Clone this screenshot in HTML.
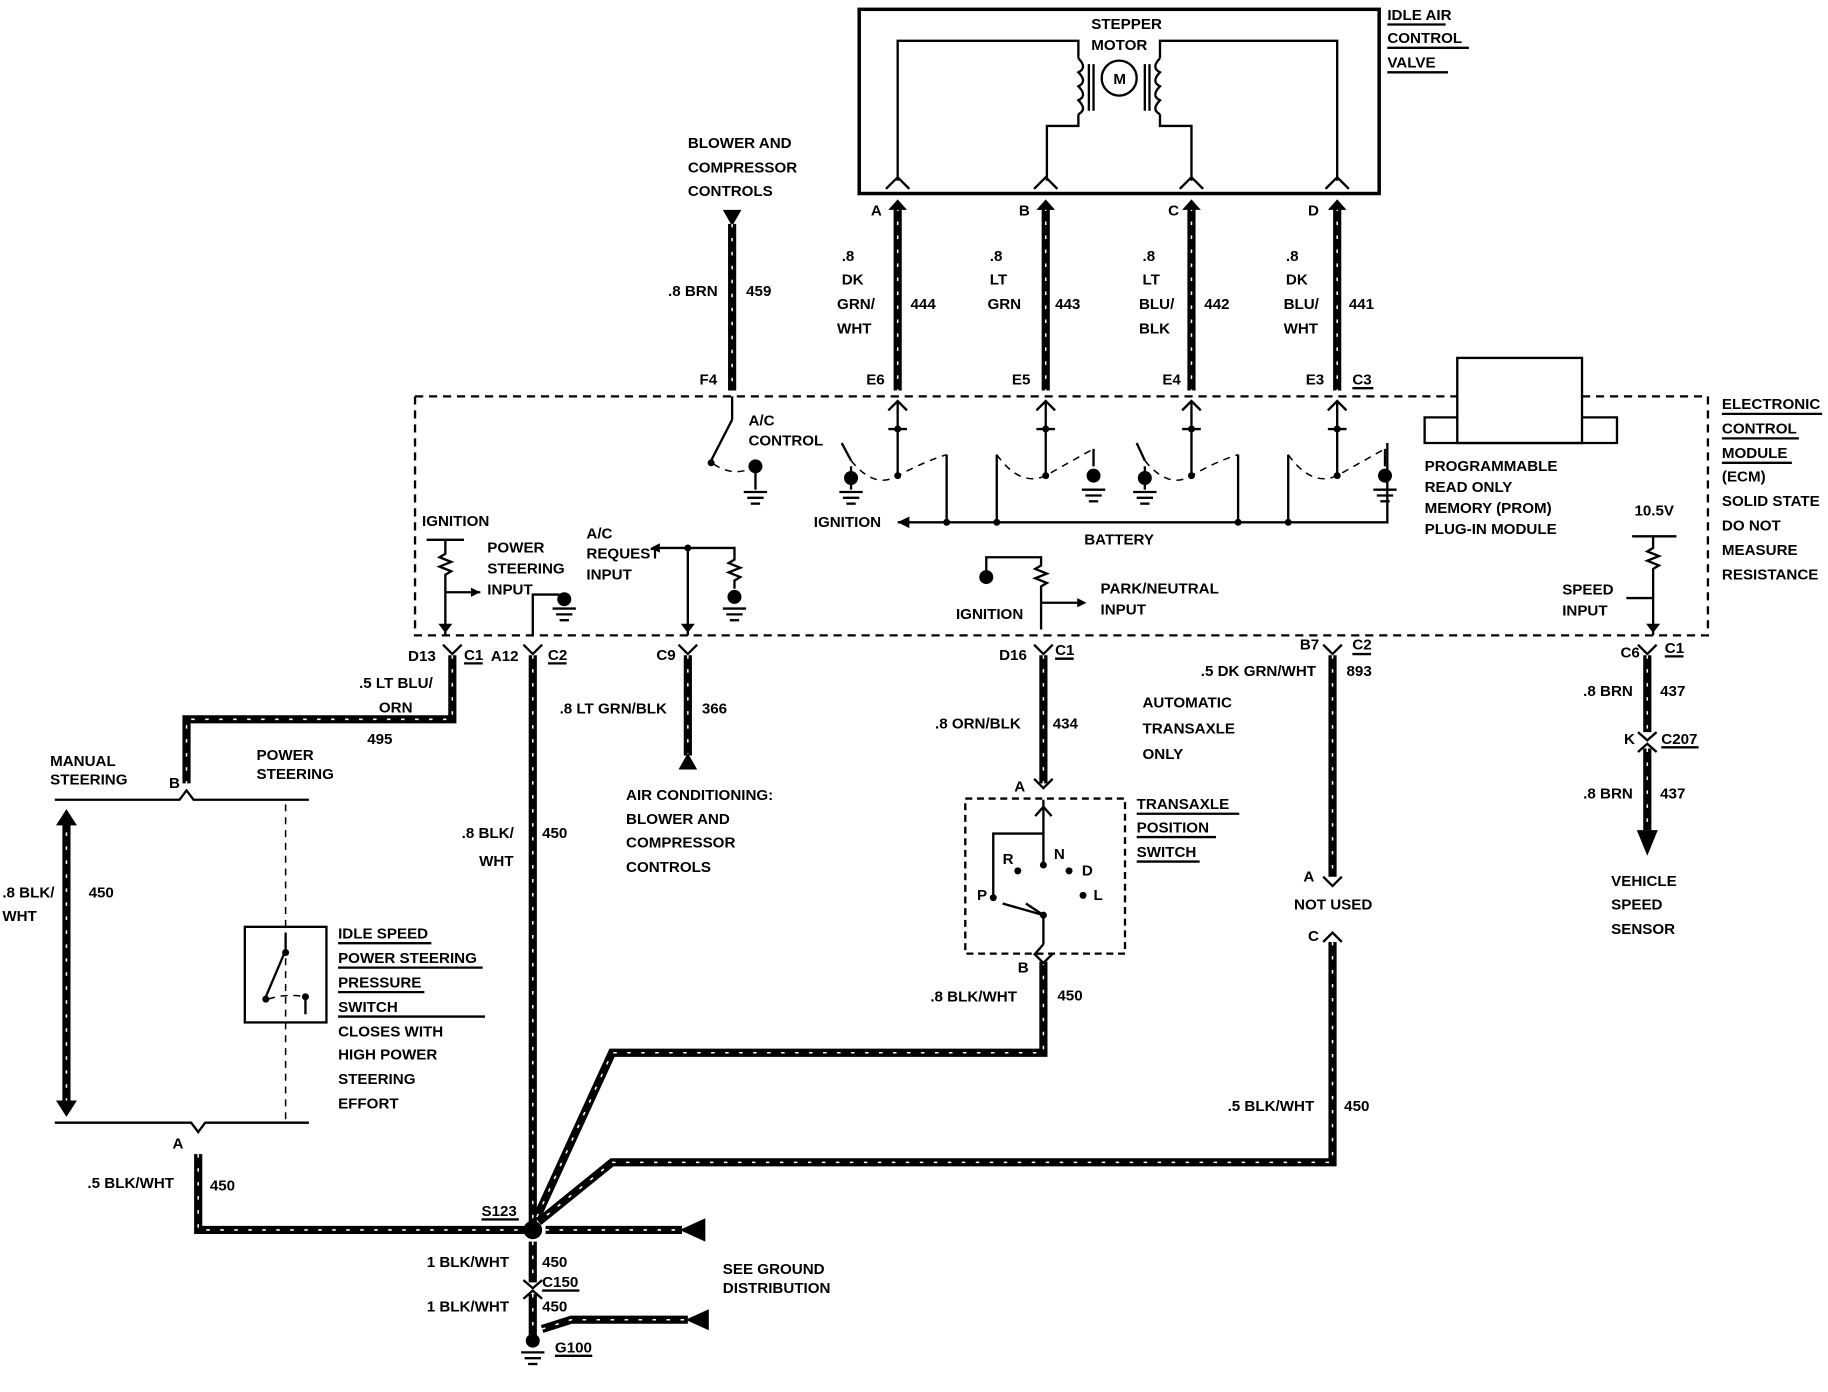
<!DOCTYPE html>
<html><head><meta charset="utf-8"><style>
html,body{margin:0;padding:0;background:#fff}
svg{display:block}
text{font-family:"Liberation Sans",sans-serif;font-weight:bold;font-size:13px;fill:#000}
.w{stroke:#000;stroke-width:7;fill:none}
.h{stroke:#fff;stroke-width:1.3;stroke-dasharray:3 9;fill:none}
.t{stroke:#000;stroke-width:2;fill:none}
.d{stroke:#000;stroke-width:2;fill:none;stroke-dasharray:7 5}
.d2{stroke:#000;stroke-width:1.3;fill:none;stroke-dasharray:6 5}
</style></head><body>
<svg width="1828" height="1392" viewBox="0 0 1568 1194" xmlns="http://www.w3.org/2000/svg">
<defs>
<g id="gnd"><line x1="-10" y1="0" x2="10" y2="0" class="t"/><line x1="-7" y1="5" x2="7" y2="5" class="t"/><line x1="-4" y1="10" x2="4" y2="10" class="t"/></g>
</defs>
<!-- IAC box -->
<rect x="737" y="8" width="446" height="158" fill="none" stroke="#000" stroke-width="3"/>
<path class="t" d="M770 155 V35 H925 V50 M925 98 V108 H898 V155"/>
<path class="t" d="M1147 155 V35 H995 V50 M995 98 V108 H1022 V155"/>
<path class="t" d="M925 50 q8 8 0 12 q8 8 0 12 q8 8 0 12 q8 8 0 12"/>
<path class="t" d="M995 50 q-8 8 0 12 q-8 8 0 12 q-8 8 0 12 q-8 8 0 12"/>
<line x1="934" y1="55" x2="934" y2="95" class="t"/><line x1="938" y1="55" x2="938" y2="95" class="t"/>
<line x1="982" y1="55" x2="982" y2="95" class="t"/><line x1="986" y1="55" x2="986" y2="95" class="t"/>
<circle cx="960" cy="67" r="15" class="t"/><text x="955" y="72" font-size="10">M</text>
<text x="936" y="25" font-size="11">STEPPER</text><text x="936" y="43" font-size="11">MOTOR</text>
<text x="1190" y="17">IDLE AIR</text><text x="1190" y="37">CONTROL</text><text x="1190" y="58">VALVE</text>
<path class="t" d="M1190 21h50M1190 41h70M1190 62h52"/>
<g class="t">
<path d="M760 162l10-10 10 10M887 162l10-10 10 10M1012 162l10-10 10 10M1137 162l10-10 10 10"/>
</g>
<!-- wires IAC -->
<g>
<path class="w" d="M770 178V335M897 178V335M1022 178V335M1147 178V335"/>
<path class="h" d="M770 178V335M897 178V335M1022 178V335M1147 178V335"/>
<path d="M762 180l8-9 8 9zM889 180l8-9 8 9zM1014 180l8-9 8 9zM1139 180l8-9 8 9z"/>
</g>
<text x="747" y="185">A</text><text x="874" y="185">B</text><text x="1002" y="185">C</text><text x="1122" y="185">D</text>
<text x="722" y="224">.8</text><text x="722" y="244">DK</text><text x="718" y="265">GRN/</text><text x="718" y="286">WHT</text><text x="781" y="265">444</text>
<text x="849" y="224">.8</text><text x="849" y="244">LT</text><text x="847" y="265">GRN</text><text x="905" y="265">443</text>
<text x="980" y="224">.8</text><text x="980" y="244">LT</text><text x="977" y="265">BLU/</text><text x="977" y="286">BLK</text><text x="1033" y="265">442</text>
<text x="1103" y="224">.8</text><text x="1103" y="244">DK</text><text x="1101" y="265">BLU/</text><text x="1101" y="286">WHT</text><text x="1157" y="265">441</text>
<!-- 459 -->
<text x="590" y="127">BLOWER AND</text><text x="590" y="148">COMPRESSOR</text><text x="590" y="168">CONTROLS</text>
<path d="M620 180h16l-8 14z"/>
<path class="w" d="M628 192V335"/><path class="h" d="M628 192V335"/>
<text x="573" y="254">.8 BRN</text><text x="640" y="254">459</text>
<text x="600" y="330">F4</text><text x="743" y="330">E6</text><text x="868" y="330">E5</text><text x="997" y="330">E4</text><text x="1120" y="330">E3</text><text x="1160" y="330">C3</text>
<path class="t" d="M1160 333h18"/>
<!-- ECM dashed -->
<path class="d" d="M356 340H1250M1357 340H1465V545H356V340"/>
<rect x="1250" y="307" width="107" height="73" fill="#fff" stroke="#000" stroke-width="2"/>
<path class="t" d="M1250 358H1222V380H1387V358H1357"/>
<text x="1222" y="404" font-size="11">PROGRAMMABLE</text><text x="1222" y="422" font-size="11">READ ONLY</text><text x="1222" y="440" font-size="11">MEMORY (PROM)</text><text x="1222" y="458" font-size="11">PLUG-IN MODULE</text>
<text x="1477" y="351">ELECTRONIC</text><text x="1477" y="372">CONTROL</text><text x="1477" y="393">MODULE</text><text x="1477" y="413">(ECM)</text><text x="1477" y="434">SOLID STATE</text><text x="1477" y="455">DO NOT</text><text x="1477" y="476">MEASURE</text><text x="1477" y="497">RESISTANCE</text>
<path class="t" d="M1477 355h86M1477 376h66M1477 397h60"/>
<!-- inside ECM top -->
<path class="t" d="M628 340V360M628 360L610 395"/><circle cx="610" cy="397" r="3"/>
<path class="d2" d="M612 398Q630 410 648 400"/><path class="t" d="M648 400V420"/><circle cx="648" cy="400" r="6"/><use href="#gnd" x="648" y="422"/>
<text x="642" y="365" font-size="11">A/C</text><text x="642" y="382" font-size="11">CONTROL</text>
<g class="t">
<path d="M770 345V410M897 345V410M1022 345V410M1147 345V410"/>
<path d="M762 352l8-8 8 8M889 352l8-8 8 8M1014 352l8-8 8 8M1139 352l8-8 8 8"/>
<path d="M762 368h16M889 368h16M1014 368h16M1139 368h16"/>
</g>
<circle cx="770" cy="368" r="3"/><circle cx="897" cy="368" r="3"/><circle cx="1022" cy="368" r="3"/><circle cx="1147" cy="368" r="3"/>
<circle cx="770" cy="408" r="3"/><circle cx="897" cy="408" r="3"/><circle cx="1022" cy="408" r="3"/><circle cx="1147" cy="408" r="3"/>
<path class="d2" d="M730 395Q750 420 770 408Q795 395 812 390M855 390Q875 418 897 408Q920 395 938 385M982 395Q1002 420 1022 408Q1045 395 1062 390M1105 390Q1125 418 1147 408Q1170 395 1188 385"/>
<g class="t"><path d="M730 395L722 380M855 390L855 448M938 385V400M982 395L975 380M1105 390V448M1188 385V400M812 390V448M1062 390V448"/></g>
<circle cx="730" cy="410" r="6"/><path class="t" d="M730 400V420"/><use href="#gnd" x="730" y="422"/>
<circle cx="938" cy="408" r="6"/><use href="#gnd" x="938" y="420"/>
<circle cx="982" cy="410" r="6"/><path class="t" d="M982 400V420"/><use href="#gnd" x="982" y="422"/>
<circle cx="1188" cy="408" r="6"/><use href="#gnd" x="1188" y="420"/>
<path class="t" d="M770 448H1190V380"/><path d="M770 448l10-5v10z"/>
<circle cx="812" cy="448" r="3"/><circle cx="855" cy="448" r="3"/><circle cx="1062" cy="448" r="3"/><circle cx="1105" cy="448" r="3"/>
<text x="698" y="452" font-size="11">IGNITION</text><text x="930" y="467" font-size="11">BATTERY</text>
<!-- left ECM -->
<text x="362" y="451" font-size="11">IGNITION</text>
<path class="t" d="M366 463H398M382 463V475l-5 3 10 4-10 4 10 4-5 3V545"/>
<path class="t" d="M382 508H412"/><path d="M412 508l-8-4v8z"/>
<path d="M376 535l6 8 6-8z"/>
<text x="418" y="474" font-size="11">POWER</text><text x="418" y="492" font-size="11">STEERING</text><text x="418" y="510" font-size="11">INPUT</text>
<path class="t" d="M457 545V510H480"/><circle cx="484" cy="514" r="6"/><use href="#gnd" x="484" y="522"/>
<text x="503" y="462" font-size="11">A/C</text><text x="503" y="479" font-size="11">REQUEST</text><text x="503" y="497" font-size="11">INPUT</text>
<path class="t" d="M560 470H630V480l-5 3 10 4-10 4 10 4-5 3V505M590 470V545"/><path d="M558 470l8-4v8z"/>
<circle cx="630" cy="512" r="6"/><use href="#gnd" x="630" y="522"/><path d="M584 535l6 8 6-8z"/>
<circle cx="590" cy="470" r="3"/>
<circle cx="846" cy="495" r="6"/><path class="t" d="M846 495V478H893V485l-5 3 10 4-10 4 10 4-5 3V540M893 517H930"/><path d="M932 517l-8-4v8z"/>
<text x="820" y="531" font-size="11">IGNITION</text><text x="944" y="509" font-size="11">PARK/NEUTRAL</text><text x="944" y="527" font-size="11">INPUT</text>
<text x="1402" y="442" font-size="11">10.5V</text>
<path class="t" d="M1400 460H1438M1418 460V470l-5 3 10 4-10 4 10 4-5 3V545M1418 513H1395"/><path d="M1412 535l6 8 6-8z"/>
<text x="1340" y="510" font-size="11">SPEED</text><text x="1340" y="528" font-size="11">INPUT</text>
<!-- bottom connectors -->
<g class="t"><path d="M380 553l8 8 8-8M449 553l8 8 8-8M582 553l8 8 8-8M887 553l8 8 8-8M1135 553l8 8 8-8M1405 553l8 8 8-8"/></g>
<text x="350" y="567">D13</text><text x="398" y="566">C1</text><text x="421" y="567">A12</text><text x="470" y="566">C2</text><text x="563" y="566">C9</text>
<text x="857" y="566">D16</text><text x="905" y="562">C1</text><text x="1115" y="557">B7</text><text x="1160" y="557">C2</text><text x="1390" y="564">C6</text><text x="1428" y="560">C1</text>
<path class="t" d="M398 569h16M470 569h16M905 565h16M1160 561h16M1428 563h16"/>
<!-- wires -->
<g id="wires">
<path class="w" d="M388 562V617H160V672"/>
<path class="w" d="M457 562V1050"/>
<path class="w" d="M590 562V648"/>
<path class="w" d="M895 562V672"/>
<path class="w" d="M1143 562V752"/>
<path class="w" d="M1413 562V628M1413 642V712"/>
<path class="w" d="M57 702V950"/>
<path class="w" d="M170 990V1055H450"/>
<path class="w" d="M895 825V903H525L460 1045"/>
<path class="w" d="M1143 808V997H525L462 1048"/>
<path class="w" d="M468 1055H585"/>
<path class="w" d="M457 1065V1100M457 1110V1145"/>
<path class="w" d="M465 1140L490 1132H590"/>
</g>
<g class="h">
<path d="M388 562V617H160V672"/><path d="M457 562V1050"/><path d="M590 562V648"/><path d="M895 562V672"/><path d="M1143 562V752"/>
<path d="M1413 562V628M1413 642V712"/><path d="M57 702V950"/><path d="M170 990V1055H450"/><path d="M895 825V903H525L460 1045"/>
<path d="M1143 808V997H525L462 1048"/><path d="M468 1055H585"/><path d="M457 1065V1100M457 1110V1145"/><path d="M465 1140L490 1132H590"/>
</g>
<path d="M582 660h16l-8-14z"/>
<path d="M1404 712h18l-9 22z"/>
<path d="M48 708l9-14 9 14zM48 944l9 14 9-14z"/>
<path d="M583 1055l22-10v20zM588 1132l20-9v18z"/>
<text x="308" y="590">.5 LT BLU/</text><text x="325" y="611">ORN</text><text x="315" y="638">495</text>
<text x="480" y="612">.8 LT GRN/BLK</text><text x="602" y="612">366</text>
<text x="802" y="625">.8 ORN/BLK</text><text x="903" y="625">434</text>
<text x="1030" y="580">.5 DK GRN/WHT</text><text x="1155" y="580">893</text>
<text x="980" y="607">AUTOMATIC</text><text x="980" y="629">TRANSAXLE</text><text x="980" y="651">ONLY</text>
<text x="1358" y="597">.8 BRN</text><text x="1424" y="597">437</text>
<text x="1393" y="638">K</text><text x="1425" y="638">C207</text><path class="t" d="M1425 641h32"/>
<path class="t" d="M1405 628l8 7 8-7M1405 645l8-7 8 7"/>
<text x="1358" y="685">.8 BRN</text><text x="1424" y="685">437</text>
<text x="1382" y="760">VEHICLE</text><text x="1382" y="780">SPEED</text><text x="1382" y="801">SENSOR</text>
<text x="537" y="686">AIR CONDITIONING:</text><text x="537" y="707">BLOWER AND</text><text x="537" y="727">COMPRESSOR</text><text x="537" y="748">CONTROLS</text>
<!-- steering -->
<text x="43" y="657">MANUAL</text><text x="43" y="673">STEERING</text><text x="220" y="652">POWER</text><text x="220" y="668">STEERING</text>
<text x="145" y="676">B</text>
<path class="t" d="M47 686H154l6-8 6 8H265"/>
<path class="t" d="M47 963H164l6 8 6-8H265"/>
<path class="d2" d="M245 690V960"/>
<rect x="210" y="795" width="70" height="82" fill="none" stroke="#000" stroke-width="2"/>
<path class="t" d="M245 800V815L228 855M262 855V870"/><circle cx="245" cy="817" r="3"/><circle cx="228" cy="857" r="3"/><circle cx="262" cy="855" r="3"/>
<path class="d2" d="M230 857Q245 852 262 855"/>
<text x="290" y="805">IDLE SPEED</text><text x="290" y="826">POWER STEERING</text><text x="290" y="847">PRESSURE</text><text x="290" y="868">SWITCH</text>
<path class="t" d="M290 809h80M290 830h124M290 851h74M290 872h126"/>
<text x="290" y="889">CLOSES WITH</text><text x="290" y="909">HIGH POWER</text><text x="290" y="930">STEERING</text><text x="290" y="951">EFFORT</text>
<text x="2" y="770">.8 BLK/</text><text x="2" y="790">WHT</text><text x="76" y="770">450</text>
<text x="148" y="985">A</text><text x="75" y="1019">.5 BLK/WHT</text><text x="180" y="1021">450</text>
<text x="396" y="719">.8 BLK/</text><text x="411" y="743">WHT</text><text x="465" y="719">450</text>
<!-- transaxle switch -->
<text x="870" y="679">A</text><path class="t" d="M887 668l8 8 8-8"/>
<rect x="828" y="685" width="137" height="133" fill="none" stroke="#000" stroke-width="2" stroke-dasharray="6 4"/>
<path class="t" d="M895 686V715H852V770M888 700l7-8 7 8M895 715V740M895 810V785L880 775M895 810l-7 8 7 0"/>
<circle cx="895" cy="742" r="3"/><circle cx="873" cy="747" r="3"/><circle cx="917" cy="747" r="3"/><circle cx="929" cy="768" r="3"/><circle cx="852" cy="770" r="3"/><circle cx="895" cy="785" r="3"/>
<path class="t" d="M860 775L895 785"/>
<text x="860" y="741" font-size="10">R</text><text x="904" y="737" font-size="10">N</text><text x="928" y="751" font-size="10">D</text><text x="938" y="772" font-size="10">L</text><text x="838" y="772" font-size="10">P</text>
<text x="975" y="694">TRANSAXLE</text><text x="975" y="714">POSITION</text><text x="975" y="735">SWITCH</text>
<path class="t" d="M975 698h88M975 718h68M975 739h54"/>
<text x="873" y="834">B</text><path class="t" d="M887 818l8 8 8-8"/>
<text x="798" y="859">.8 BLK/WHT</text><text x="907" y="858">450</text>
<text x="1118" y="756">A</text><path class="t" d="M1135 752l8 8 8-8"/>
<text x="1110" y="780">NOT USED</text>
<text x="1122" y="807">C</text><path class="t" d="M1135 808l8-8 8 8"/>
<text x="1053" y="953">.5 BLK/WHT</text><text x="1153" y="953">450</text>
<!-- S123 / ground -->
<circle cx="457" cy="1055" r="8"/>
<text x="413" y="1043">S123</text><path class="t" d="M413 1046h32"/>
<text x="366" y="1087">1 BLK/WHT</text><text x="465" y="1087">450</text>
<text x="465" y="1104">C150</text><path class="t" d="M465 1107h32M449 1098l8 7 8-7M449 1114l8-7 8 7"/>
<text x="366" y="1125">1 BLK/WHT</text><text x="465" y="1125">450</text>
<circle cx="457" cy="1150" r="6"/><use href="#gnd" x="457" y="1160"/>
<text x="476" y="1160">G100</text><path class="t" d="M476 1163h32"/>
<text x="620" y="1093">SEE GROUND</text><text x="620" y="1109">DISTRIBUTION</text>
</svg>
</body></html>
